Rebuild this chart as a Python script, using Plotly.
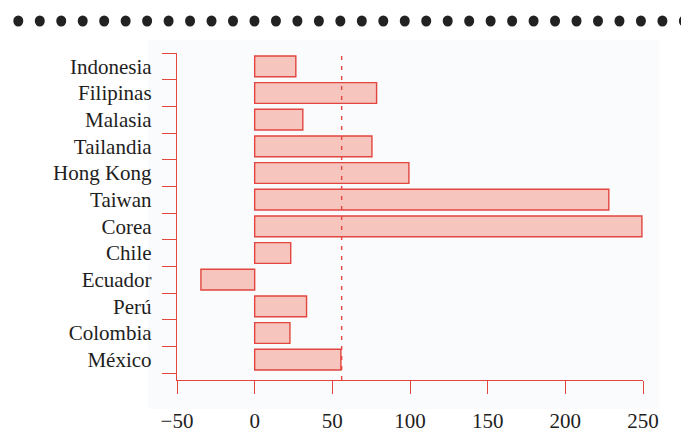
import plotly.graph_objects as go

# Data (bottom to top)
countries = ["México", "Colombia", "Perú", "Ecuador", "Chile", "Corea", "Taiwan",
             "Hong Kong", "Tailandia", "Malasia", "Filipinas", "Indonesia"]
values = [55.5, 22.7, 33.4, -34.6, 23.2, 249.3, 228.0, 99.3, 75.5, 31.0, 78.5, 26.5]
ref_value = 56
x_ticks = [-50, 0, 50, 100, 150, 200, 250]

# page body has an 8px margin, so the figure is drawn at (8, 8);
# keep the page within the window so no scrolling occurs
OFF = 8
W, H = 689 - 2 * OFF, 444 - 2 * OFF
ML, MT = 177 - OFF, 53 - OFF
PR, PB = 643 - OFF, 380 - OFF          # plot right / bottom in figure px
MR, MB = W - PR, H - PB
PW, PH = PR - ML, PB - MT

RED = "#e2463f"
FILL = "#f6c5bd"
FONT = "Liberation Serif"


def px_x(px):
    return (px - OFF - ML) / PW


def px_y(py):
    return (PB - (py - OFF)) / PH


fig = go.Figure()
fig.add_trace(go.Bar(
    y=countries, x=values, orientation="h", width=0.78,
    marker=dict(color=FILL, line=dict(color=RED, width=1.4)),
    showlegend=False,
))

shapes = []
# faint scan background
shapes.append(dict(type="rect", xref="paper", yref="paper", layer="below",
                   x0=px_x(148), x1=px_x(659), y0=px_y(409), y1=px_y(40),
                   fillcolor="#fafbfc", line=dict(width=0)))
# dashed reference line
shapes.append(dict(type="line", xref="x", yref="paper", x0=ref_value, x1=ref_value,
                   y0=0, y1=1, line=dict(color=RED, width=1.4, dash="4px,6px")))
# decorative dotted rule at top
n_dots = 32
for i in range(n_dots):
    cx = 18.3 + i * 21.47
    shapes.append(dict(type="circle", xref="paper", yref="paper",
                       x0=px_x(cx - 5), x1=px_x(cx + 5),
                       y0=px_y(21 + 5.5), y1=px_y(21 - 5.5),
                       fillcolor="#222222", line=dict(width=0)))

fig.update_layout(
    width=W, height=H,
    margin=dict(l=ML, r=MR, t=MT, b=MB),
    paper_bgcolor="white", plot_bgcolor="rgba(0,0,0,0)",
    font=dict(family=FONT, size=21, color="#1e1e1e"),
    shapes=shapes,
    bargap=0.2,
)
fig.update_xaxes(
    automargin=False,
    range=[-50, 250], tickvals=x_ticks, ticktext=[f"{v:g}".replace("-", "\u2212") for v in x_ticks],
    showgrid=False, zeroline=False, showline=True, linecolor=RED, linewidth=1.4,
    ticks="outside", ticklen=13, tickwidth=1.4, tickcolor=RED,
    ticklabelstandoff=9, tickfont=dict(family=FONT, size=21, color="#1e1e1e"),
)
fig.update_yaxes(
    automargin=False,
    type="category", categoryorder="array", categoryarray=countries,
    range=[-0.7625, 11.5], tickson="boundaries",
    showgrid=False, zeroline=False, showline=True, linecolor=RED, linewidth=1.4,
    ticks="outside", ticklen=14, tickwidth=1.4, tickcolor=RED,
    ticklabelstandoff=20, tickfont=dict(family=FONT, size=21, color="#1e1e1e"),
)

fig.write_html("out.html")
